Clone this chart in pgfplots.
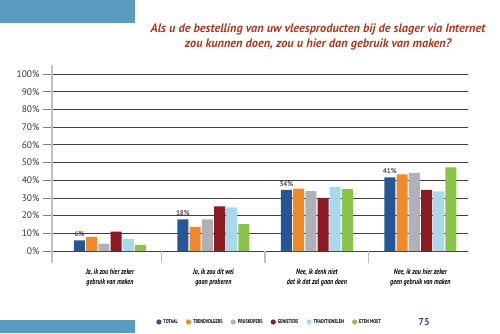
\documentclass[border=0pt]{standalone}
\usepackage{pgfplots}
\pgfplotsset{compat=1.18}
\usepackage{fontspec}
\setmainfont{PT Sans}
\newfontfamily\cond[FakeStretch=0.78]{PT Sans}
\definecolor{cTot}{RGB}{38,86,150}
\definecolor{cTrend}{RGB}{240,137,42}
\definecolor{cPrijs}{RGB}{176,176,184}
\definecolor{cGen}{RGB}{139,26,34}
\definecolor{cTrad}{RGB}{168,216,236}
\definecolor{cEten}{RGB}{139,195,74}
\definecolor{titlec}{RGB}{168,58,32}
\definecolor{bandc}{RGB}{88,154,192}
\definecolor{pagec}{RGB}{40,80,140}
\begin{document}
\begin{tikzpicture}[x=1pt,y=1pt]
\useasboundingbox (0,0) rectangle (500,333);
\fill[bandc] (0,310) rectangle (135,333);
\fill[bandc] (0,0) rectangle (135,13);
\node[font=\bfseries\itshape\fontsize{12.3}{15.5}\selectfont, text=titlec, align=center] at (318,296) {Als u de bestelling van uw vleesproducten bij de slager via Internet\\zou kunnen doen, zou u hier dan gebruik van maken?};
\node[font=\bfseries\fontsize{10}{12}\selectfont, text=pagec] at (424,11) {75};
\begin{axis}[
  at={(52pt,82pt)}, anchor=south west,
  scale only axis, width=416pt, height=177pt,
  xmin=-0.56, xmax=3.46, ymin=0, ymax=100,
  axis line style={draw=none},
  ybar=1.2pt, bar width=11pt,
  xtick={0,1,2,3},
  xticklabels={{Ja, ik zou hier zeker\\gebruik van maken},{Ja, ik zou dit wel\\gaan proberen},{Nee, ik denk niet\\dat ik dat zal gaan doen},{Nee, ik zou hier zeker\\geen gebruik van maken}},
  xticklabel style={font=\cond\bfseries\itshape\fontsize{7.8}{10}\selectfont, align=center, yshift=-5pt},
  xtick style={draw=none},
  ytick={0,10,...,100},
  yticklabel={\pgfmathprintnumber{\tick}\%},
  yticklabel style={font=\fontsize{9.5}{11}\selectfont, text=black!80, xshift=0pt},
  /pgf/number format/assume math mode=true,
  ytick pos=left, tick align=outside, major tick length=9pt,
  ytick style={gray, line width=0.8pt},
  ymajorgrids, grid style={black!75, line width=0.7pt},
  clip=false,
  legend columns=6,
  legend style={draw=none, fill=none, at={(0.243,-0.401)}, anchor=west,
    font=\cond\bfseries\fontsize{5.5}{6}\selectfont,
    /tikz/every even column/.append style={column sep=6pt}},
  legend image code/.code={\fill[#1,draw=none] (0.08cm,0cm) circle (2.6pt);},
  every axis plot/.append style={draw=none},
]
\draw[gray!50, line width=2.5pt] (axis cs:-0.56,-6.8) -- (axis cs:-0.56,105);
\draw[gray!50, line width=1.5pt] (axis cs:0.5,0) -- (axis cs:0.5,-6.8);
\draw[gray!50, line width=1.5pt] (axis cs:1.5,0) -- (axis cs:1.5,-6.8);
\draw[gray!50, line width=1.5pt] (axis cs:2.5,0) -- (axis cs:2.5,-6.8);
\addplot[fill=cTot, nodes near coords, point meta=explicit symbolic,
  every node near coord/.append style={font=\bfseries\fontsize{7}{8}\selectfont, text=black!70}]
  coordinates {(0,6) [6\%] (1,17.8) [18\%] (2,34.5) [34\%] (3,41.6) [41\%]};
\addplot[fill=cTrend] coordinates {(0,8) (1,13.6) (2,35.2) (3,43.3)};
\addplot[fill=cPrijs] coordinates {(0,4.2) (1,17.8) (2,33.8) (3,44.2)};
\addplot[fill=cGen] coordinates {(0,11) (1,25.2) (2,30) (3,34.6)};
\addplot[fill=cTrad] coordinates {(0,6.8) (1,24.6) (2,36.2) (3,33.7)};
\addplot[fill=cEten] coordinates {(0,3.4) (1,15.2) (2,34.9) (3,47.2)};
\legend{TOTAAL,TRENDVOLGERS,PRIJSKOPERS,GENIETERS,TRADITIONELEN,ETEN MOET}
\end{axis}
\end{tikzpicture}
\end{document}
